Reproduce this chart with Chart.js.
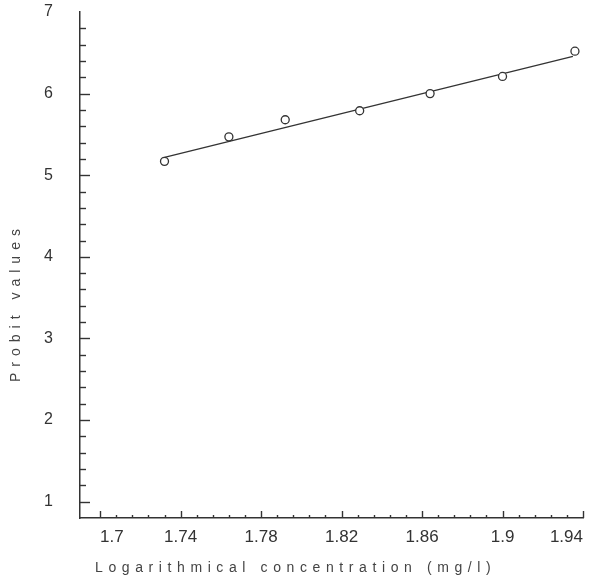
<!DOCTYPE html>
<html>
<head>
<meta charset="utf-8">
<script src="https://cdn.jsdelivr.net/npm/chart.js@4.4.1/dist/chart.umd.min.js"></script>
<style>
  html, body { margin: 0; padding: 0; background: #fff; }
  #wrap { width: 593px; height: 583px; position: relative; }
</style>
</head>
<body>
<div id="wrap"><canvas id="c"></canvas></div>
<script>
// ---- data ----
const logConc = [1.732, 1.764, 1.792, 1.829, 1.864, 1.900, 1.936];
const probitValues = [5.17, 5.47, 5.68, 5.79, 6.00, 6.21, 6.52];
const fitX = [1.732, 1.935];
const fitY = [5.22, 6.455];
const xTickValues = [1.70, 1.74, 1.78, 1.82, 1.86, 1.90, 1.94];
const xTickLabels = ['1.7', '1.74', '1.78', '1.82', '1.86', '1.9', '1.94'];
const yTickValues = [1, 2, 3, 4, 5, 6, 7];
const yTickLabels = ['1', '2', '3', '4', '5', '6', '7'];
const xTitle = 'Logarithmical concentration (mg/l)';
const yTitle = 'Probit values';

const INK = '#333';
const FONT = '"Liberation Sans", Arial, Helvetica, sans-serif';

const tickPlugin = {
  id: 'inwardTicks',
  afterDraw(chart) {
    const ctx = chart.ctx;
    const xs = chart.scales.x, ys = chart.scales.y;
    const area = chart.chartArea;
    ctx.save();
    ctx.strokeStyle = INK;
    ctx.lineWidth = 1.4;
    // x ticks (inward, upward)
    const xMinor = [];
    for (let i = 0; i < xTickValues.length - 1; i++) {
      const a = xTickValues[i], b = xTickValues[i + 1];
      for (let k = 1; k < 5; k++) xMinor.push(a + (b - a) * k / 5);
    }
    const xLine = (v, len) => {
      const px = Math.round(xs.getPixelForValue(v)) + 0.5;
      ctx.beginPath(); ctx.moveTo(px, area.bottom); ctx.lineTo(px, area.bottom - len); ctx.stroke();
    };
    xMinor.forEach(v => xLine(v, 3));
    xTickValues.forEach(v => xLine(v, 7));
    // y ticks (inward, rightward)
    const yMinor = [];
    for (let i = 0; i < yTickValues.length - 1; i++) {
      const a = yTickValues[i], b = yTickValues[i + 1];
      for (let k = 1; k < 5; k++) yMinor.push(a + (b - a) * k / 5);
    }
    const yLine = (v, len) => {
      const py = Math.round(ys.getPixelForValue(v)) + 0.5;
      ctx.beginPath(); ctx.moveTo(area.left, py); ctx.lineTo(area.left + len, py); ctx.stroke();
    };
    yMinor.forEach(v => yLine(v, 6));
    yTickValues.slice(0, -1).forEach(v => yLine(v, 10));

    // axis titles with wide letter spacing
    ctx.fillStyle = '#444';
    ctx.font = '14px ' + FONT;
    ctx.textBaseline = 'middle';
    ctx.textAlign = 'left';
    try { ctx.letterSpacing = '5.6px'; } catch (e) {}
    ctx.fillText(xTitle, area.left + 15, area.bottom + 50);
    ctx.save();
    ctx.translate(16, area.bottom - 136);
    ctx.rotate(-Math.PI / 2);
    try { ctx.letterSpacing = '6px'; } catch (e) {}
    ctx.fillText(yTitle, 0, 0);
    ctx.restore();
    ctx.restore();
  }
};

new Chart(document.getElementById('c'), {
  type: 'scatter',
  data: {
    datasets: [
      {
        label: 'Probit',
        data: logConc.map((x, i) => ({ x, y: probitValues[i] })),
        pointStyle: 'circle',
        pointRadius: 4,
        pointBorderWidth: 1.3,
        pointBorderColor: INK,
        pointBackgroundColor: '#fff',
        showLine: false,
        order: 1
      },
      {
        label: 'Fit',
        data: fitX.map((x, i) => ({ x, y: fitY[i] })),
        showLine: true,
        borderColor: INK,
        borderWidth: 1.3,
        pointRadius: 0,
        order: 2
      }
    ]
  },
  options: {
    responsive: true,
    maintainAspectRatio: false,
    animation: false,
    layout: { padding: { top: 12, right: 10, bottom: 0, left: 0 } },
    plugins: { legend: { display: false }, tooltip: { enabled: false } },
    scales: {
      x: {
        type: 'linear',
        min: 1.69,
        max: 1.94,
        afterBuildTicks(scale) { scale.ticks = xTickValues.map(v => ({ value: v })); },
        afterFit(scale) { scale.height = 65; scale.paddingRight = 0; scale.paddingLeft = 0; },
        grid: { display: false, drawTicks: false },
        border: { display: true, color: INK, width: 1.5 },
        ticks: {
          align: 'inner',
          padding: 9,
          color: INK,
          font: { family: FONT, size: 17 },
          autoSkip: false,
          maxRotation: 0,
          callback(value, index) { return xTickLabels[index]; }
        },
        title: { display: false, text: xTitle }
      },
      y: {
        type: 'linear',
        min: 0.8,
        max: 7,
        afterBuildTicks(scale) { scale.ticks = yTickValues.map(v => ({ value: v })); },
        afterFit(scale) { scale.width = 80; scale.paddingTop = 0; scale.paddingBottom = 0; },
        grid: { display: false, drawTicks: false },
        border: { display: true, color: INK, width: 1.5 },
        ticks: {
          padding: 27,
          color: INK,
          font: { family: FONT, size: 16 },
          autoSkip: false,
          callback(value, index) { return yTickLabels[index]; }
        },
        title: { display: false, text: yTitle }
      }
    }
  },
  plugins: [tickPlugin]
});
</script>
</body>
</html>
